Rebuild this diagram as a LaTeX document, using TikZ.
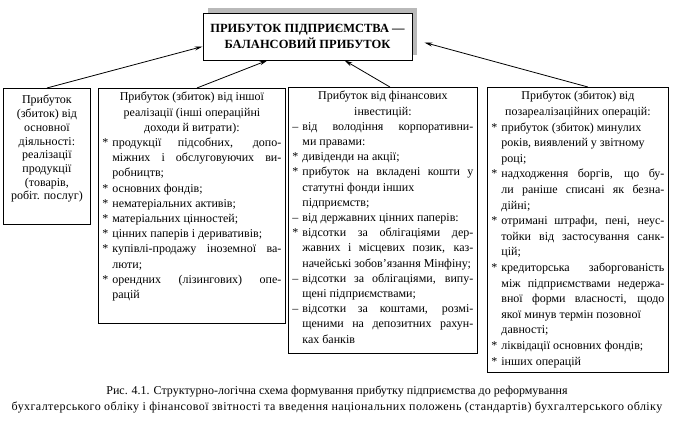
\documentclass[tikz,border=0pt]{standalone}
\usepackage{fontspec}
\setmainfont{Liberation Serif}
\usepackage{tikz}
\usetikzlibrary{arrows.meta,shadows}

% bullet line with hanging indent
\newcommand{\itm}[1]{\par\noindent\hangindent=10pt\hangafter=1\makebox[10pt][l]{#1}\ignorespaces}
\newcommand{\boxbody}[3]{\parbox[t][#1][t]{#2}{#3}}

\tikzset{
  colbox/.style={draw, line width=0.8pt, anchor=north west, inner sep=4pt},
  profit/.style={-{Stealth[length=8pt,width=4pt]}, line width=0.8pt}
}

\begin{document}
\begin{tikzpicture}[x=1pt,y=-1pt]
        \useasboundingbox (0,0) rectangle (674,422);

        % Balansovyi prybutok
        \node[draw, line width=0.8pt, fill=white, minimum width=209pt, minimum height=47pt,
          align=center, font=\fontsize{12.5}{16}\selectfont\bfseries,
          drop shadow={shadow xshift=5pt, shadow yshift=5pt, fill=gray!55, opacity=1}]
          (total) at (307.5,36.5) {ПРИБУТОК ПІДПРИЄМСТВА —\\БАЛАНСОВИЙ ПРИБУТОК};

        % Osnovna diialnist
        \node[colbox] (main) at (3,88) {\boxbody{128pt}{79pt}{\fontsize{12}{13.7}\selectfont\centering
          \vspace*{3pt}Прибуток\\(збиток) від\\основної\\діяльності:\\реалізації\\продукції\\(товарів,\\робіт. послуг)\par}};

        % Insha realizatsiia
        \node[colbox] (other) at (98,88) {\boxbody{227pt}{179pt}{\fontsize{12}{15.2}\selectfont
          {\centering Прибуток (збиток) від іншої\\реалізації (інші операційні\\доходи й витрати):\par}
          \itm{*}продукції підсобних, допо-\linebreak міжних і обслуговуючих ви-\linebreak робництв;
          \itm{*}основних фондів;
          \itm{*}нематеріальних активів;
          \itm{*}матеріальних цінностей;
          \itm{*}цінних паперів і деривативів;
          \itm{*}купівлі-продажу іноземної ва-\linebreak люти;
          \itm{*}орендних (лізингових) опе-\linebreak рацій\par}};

        % Finansovi investytsii
        \node[colbox] (invest) at (288,87) {\boxbody{258pt}{181pt}{\fontsize{12}{15.2}\selectfont
          {\centering Прибуток від фінансових\\інвестицій:\par}
          \itm{–}від володіння корпоративни-\linebreak ми правами:
          \itm{*}дивіденди на акції;
          \itm{*}прибуток на вкладені кошти у\linebreak статутні фонди інших\newline підприємств;
          \itm{–}від державних цінних паперів:
          \itm{*}відсотки за облігаціями дер-\linebreak жавних і місцевих позик, каз-\linebreak начейські зобов’язання Мінфіну;
          \itm{–}відсотки за облігаціями, випу-\linebreak щені підприємствами;
          \itm{–}відсотки за коштами, розмі-\linebreak щеними на депозитних рахун-\linebreak ках банків\par}};

        % Pozarealizatsiini operatsii
        \node[colbox] (nonop) at (487,87) {\boxbody{277pt}{173pt}{\fontsize{12}{15.6}\selectfont
          {\centering Прибуток (збиток) від\\позареалізаційних операцій:\par}
          \itm{*}прибуток (збиток) минулих\newline років, виявлений у звітному\newline році;
          \itm{*}надходження боргів, що бу-\linebreak ли раніше списані як безна-\linebreak дійні;
          \itm{*}отримані штрафи, пені, неус-\linebreak тойки від застосування санк-\linebreak цій;
          \itm{*}кредиторська заборгованість\linebreak між підприємствами недержа-\linebreak вної форми власності, щодо\linebreak якої минув термін позовної\newline давності;
          \itm{*}ліквідації основних фондів;
          \itm{*}інших операцій\par}};

        % Strilky
        \draw[profit] (main.north) -- ([yshift=-10pt]total.west);
        \draw[profit] ([xshift=5pt]other.north) -- ([xshift=-40pt]total.south);
        \draw[profit] ([xshift=7pt]invest.north) -- ([xshift=37pt]total.south);
        \draw[profit] ([xshift=10pt]nonop.north) -- ([xshift=12pt,yshift=-6pt]total.east);

        % Pidpys
        \node[align=center, font=\fontsize{12}{16}\selectfont] (caption) at (337,399)
          {Рис. 4.1. Структурно-логічна схема формування прибутку підприємства до реформування\\
           {\addfontfeature{LetterSpace=3.5}бухгалтерського обліку і фінансової звітності та введення національних положень (стандартів) бухгалтерського обліку}};
      \end{tikzpicture}
\end{document}
